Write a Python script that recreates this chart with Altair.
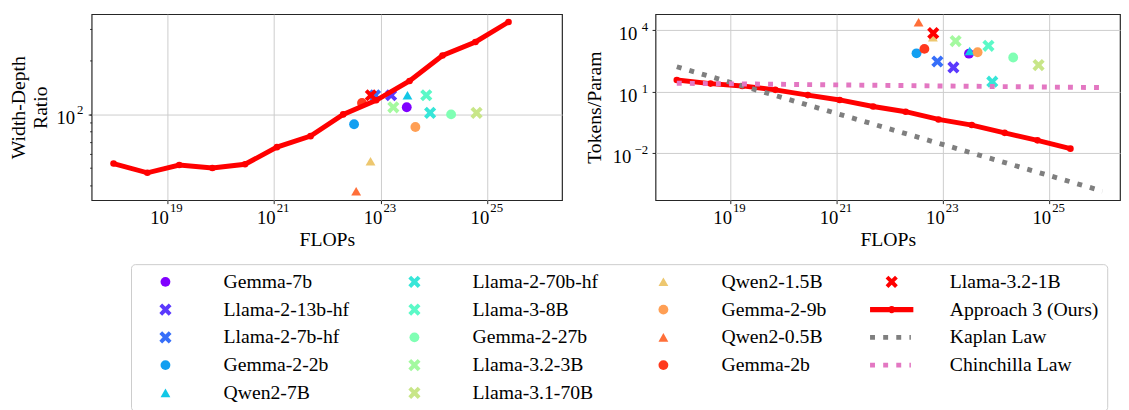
import math
import altair as alt
import pandas as pd

FONT = "Liberation Serif"

# ---------------- data ----------------
model_names = ["Gemma-7b", "Llama-2-13b-hf", "Llama-2-7b-hf", "Gemma-2-2b", "Qwen2-7B",
               "Llama-2-70b-hf", "Llama-3-8B", "Gemma-2-27b", "Llama-3.2-3B", "Llama-3.1-70B",
               "Qwen2-1.5B", "Gemma-2-9b", "Qwen2-0.5B", "Gemma-2b", "Llama-3.2-1B"]
model_markers = ["circle", "x", "x", "circle", "triangle",
                 "x", "x", "circle", "x", "x",
                 "triangle", "circle", "triangle", "circle", "x"]
model_colors = ["#8000ff", "#5b39fd", "#376ff9", "#129ff1", "#12c7e6",
                "#37e6d8", "#5bf9c7", "#80ffb4", "#a4f99f", "#c8e688",
                "#edc76f", "#ff9f54", "#ff6f39", "#ff391d", "#ff0000"]
model_flops = [3.1e23, 1.58e23, 7.9e22, 3.2e22, 3.2e23,
               8.5e23, 7.2e23, 2.1e24, 1.74e23, 6.3e24,
               6.5e22, 4.5e23, 3.5e22, 4.5e22, 6.6e22]
model_width_depth = [109.6, 128, 128, 88, 128,
                     102, 128, 100, 109.6, 102,
                     54.5, 85, 37, 116, 128]
model_tokens_param = [720, 154, 300, 750, 980,
                      31, 1740, 470, 2950, 200,
                      4600, 840, 24500, 1230, 7200]

approach_flops = [1.0e18, 4.3e18, 1.7e19, 7.1e19, 2.9e20, 1.15e21, 4.9e21,
                  2.0e22, 8.3e22, 3.5e23, 1.45e24, 6.0e24, 2.5e25]
approach_width_depth = [53, 47, 52, 50, 52.5, 65.5, 75.5, 100, 120, 154, 214, 255, 330]
approach_tokens_param = [37.4, 25.0, 19.3, 12.4, 6.9, 4.0, 1.92, 1.07, 0.45, 0.24, 0.10, 0.043, 0.017]

law_flops = [1e18, 1e26]
kaplan_tokens_param = [166, 1.45e-4]
chinchilla_tokens_param = [26, 16]

line_names = ["Approach 3 (Ours)", "Kaplan Law", "Chinchilla Law"]
line_colors = ["#ff0000", "#7f7f7f", "#e377c2"]

# tick labels: base "10" and the exponent
x_ticks = [1e19, 1e21, 1e23, 1e25]
x_tick_exponents = ["19", "21", "23", "25"]
left_y_ticks = [100]
left_y_tick_exponents = ["2"]
left_y_minor = [40, 50, 60, 70, 80, 90, 100, 200, 300]
right_y_ticks = [1e-2, 1e1, 1e4]
right_y_tick_exponents = ["\u22122", "1", "4"]

# ---------------- styles ----------------
X_PATH = ("M0.672,-1.237L1.237,-0.672L0.566,0L1.237,0.672L0.672,1.237L0,0.566"
          "L-0.672,1.237L-1.237,0.672L-0.566,0L-1.237,-0.672L-0.672,-1.237L0,-0.566Z")
APPROACH_PATH = ("M-4.4,-0.55H4.4V0.55H-4.4Z "
                 "M0.75,0A0.75,0.75,0,1,1,-0.75,0A0.75,0.75,0,1,1,0.75,0Z")
DOT_PATH = ("M-4.4,-0.5h1v1h-1Z M-1.73,-0.5h1v1h-1Z "
            "M0.93,-0.5h1v1h-1Z M3.6,-0.5h0.3v1h-0.3Z")
marker_shape = {"circle": "circle", "triangle": "triangle-up", "x": X_PATH}
line_shapes = [APPROACH_PATH, DOT_PATH, DOT_PATH]

# legend: matplotlib fills columns first; a horizontal Vega legend fills rows -> reorder
legend_columns = [model_names[0:5], model_names[5:10], model_names[10:14],
                  model_names[14:] + line_names]
legend_order = [col[r] for r in range(5) for col in legend_columns if r < len(col)]
color_of = dict(zip(model_names + line_names, model_colors + line_colors))
shape_of = dict(zip(model_names, [marker_shape[m] for m in model_markers]))
shape_of.update(dict(zip(line_names, line_shapes)))

color_scale = alt.Scale(domain=legend_order, range=[color_of[n] for n in legend_order])
shape_scale = alt.Scale(domain=legend_order, range=[shape_of[n] for n in legend_order])

legend = alt.Legend(title=None, orient="none", legendX=40, legendY=254, columns=4,
                    direction="horizontal",
                    symbolSize=100, symbolOffset=17, symbolStrokeWidth=0,
                    labelOffset=49, labelFont=FONT, labelFontSize=20, labelColor="black",
                    labelLimit=400, rowPadding=8.2, columnPadding=39, padding=8,
                    strokeColor="#cccccc", fillColor="white", cornerRadius=4)


def label_expr(ticks, labels):
    """exact match on the tick value (compared in log space to avoid float noise)"""
    expr = "''"
    for t, l in zip(reversed(ticks), reversed(labels)):
        e = math.log10(t)
        expr = f"abs(log(datum.value)/LN10 - ({e})) < 0.001 ? '{l}' : ({expr})"
    return expr


df_models = pd.DataFrame({"name": model_names, "flops": model_flops,
                          "wd": model_width_depth, "tpp": model_tokens_param})
df_app = pd.DataFrame({"flops": approach_flops, "wd": approach_width_depth,
                       "tpp": approach_tokens_param})
df_kap = pd.DataFrame({"flops": law_flops, "tpp": kaplan_tokens_param})
df_chi = pd.DataFrame({"flops": law_flops, "tpp": chinchilla_tokens_param})

BASE_FS, EXP_FS = 19, 13

# x axes: base "10" (with ticks, grid, title) and exponent
x_base = alt.Axis(values=x_ticks, labelExpr="'10'", title="FLOPs", grid=True, tickSize=3.5,
                  labelPadding=5.5, labelOffset=-8, labelFontSize=BASE_FS, titlePadding=2,
                  labelFlush=False, labelOverlap=False, orient="bottom")
x_exp = alt.Axis(values=x_ticks, labelExpr=label_expr(x_ticks, x_tick_exponents), title=None,
                 grid=False, ticks=False, tickSize=0, labelPadding=2, labelOffset=9,
                 labelFontSize=EXP_FS, labelFlush=False, labelOverlap=False, orient="bottom")

# left y axes
yl_base = alt.Axis(values=left_y_ticks, labelExpr="'10'", title=["Width-Depth", "Ratio"],
                   titleLineHeight=22, grid=True, tickSize=3.5, labelPadding=13.8,
                   labelOffset=3, labelFontSize=BASE_FS, titlePadding=6,
                   labelOverlap=False, orient="left")
yl_exp = alt.Axis(values=left_y_minor, labelExpr=label_expr(left_y_ticks, left_y_tick_exponents),
                  title=None, grid=False, tickSize=2, labelPadding=7, labelOffset=-4.5,
                  labelFontSize=EXP_FS, labelOverlap=False, orient="left")

# right y axes
yr_base = alt.Axis(values=right_y_ticks, labelExpr="'10'", title="Tokens/Param", grid=True,
                   tickSize=3.5,
                   labelPadding={"condition": {"test": "datum.value < 1", "value": 21.5},
                                 "value": 15.5},
                   labelOffset=3.5, labelFontSize=BASE_FS, titlePadding=8,
                   labelOverlap=False, orient="left")
yr_exp = alt.Axis(values=right_y_ticks, labelExpr=label_expr(right_y_ticks, right_y_tick_exponents),
                  title=None, grid=False, ticks=False, tickSize=0, labelPadding=8,
                  labelOffset=-3.5, labelFontSize=EXP_FS, labelOverlap=False, orient="left")

enc_color = alt.Color("name:N", scale=color_scale, legend=legend)
enc_shape = alt.Shape("name:N", scale=shape_scale, legend=legend)

xs_left = alt.Scale(type="log", domain=[10**17.59, 10**26.40], nice=False)
xs_right = alt.Scale(type="log", domain=[10**17.60, 10**26.33], nice=False)
ys_left = alt.Scale(type="log", domain=[33.0, 365.0], nice=False)
ys_right = alt.Scale(type="log", domain=[10**-4.28, 10**4.78], nice=False)

W_L, W_R, H = 478, 472, 189
RED_W, RED_PT = 5, 45

# ---------------- left panel ----------------
scatter_l = alt.Chart(df_models).mark_point(filled=True, size=100, opacity=1, strokeWidth=0).encode(
    x=alt.X("flops:Q", scale=xs_left, axis=x_base),
    y=alt.Y("wd:Q", scale=ys_left, axis=yl_base),
    color=enc_color, shape=enc_shape)
line_l = alt.Chart(df_app).mark_line(color="#ff0000", strokeWidth=RED_W).encode(
    x=alt.X("flops:Q", scale=xs_left, axis=x_exp),
    y=alt.Y("wd:Q", scale=ys_left, axis=yl_exp))
pts_l = alt.Chart(df_app).mark_circle(color="#ff0000", size=RED_PT, opacity=1).encode(
    x=alt.X("flops:Q", scale=xs_left, axis=None),
    y=alt.Y("wd:Q", scale=ys_left, axis=None))
left = alt.layer(scatter_l, line_l, pts_l).resolve_axis(
    x="independent", y="independent").properties(width=W_L, height=H)

# ---------------- right panel ----------------
scatter_r = alt.Chart(df_models).mark_point(filled=True, size=100, opacity=1, strokeWidth=0).encode(
    x=alt.X("flops:Q", scale=xs_right, axis=x_base),
    y=alt.Y("tpp:Q", scale=ys_right, axis=yr_base),
    color=enc_color, shape=enc_shape)
line_r = alt.Chart(df_app).mark_line(color="#ff0000", strokeWidth=RED_W).encode(
    x=alt.X("flops:Q", scale=xs_right, axis=x_exp),
    y=alt.Y("tpp:Q", scale=ys_right, axis=yr_exp))
pts_r = alt.Chart(df_app).mark_circle(color="#ff0000", size=RED_PT, opacity=1).encode(
    x=alt.X("flops:Q", scale=xs_right, axis=None),
    y=alt.Y("tpp:Q", scale=ys_right, axis=None))
kap_r = alt.Chart(df_kap).mark_line(color="#7f7f7f", strokeWidth=5, strokeDash=[5, 8.25],
                                    strokeCap="butt").encode(
    x=alt.X("flops:Q", scale=xs_right, axis=None),
    y=alt.Y("tpp:Q", scale=ys_right, axis=None))
chi_r = alt.Chart(df_chi).mark_line(color="#e377c2", strokeWidth=5, strokeDash=[5, 8.25],
                                    strokeCap="butt").encode(
    x=alt.X("flops:Q", scale=xs_right, axis=None),
    y=alt.Y("tpp:Q", scale=ys_right, axis=None))
right = alt.layer(scatter_r, line_r, pts_r, kap_r, chi_r).resolve_axis(
    x="independent", y="independent").properties(width=W_R, height=H)

chart = alt.hconcat(left, right, spacing=21).resolve_scale(
    color="shared", shape="shared").resolve_legend(color="shared", shape="shared").properties(
    padding={"left": 0, "top": 0, "right": 0, "bottom": 0}
).configure_view(stroke="#262626", strokeWidth=1.2).configure_axis(
    labelFont=FONT, titleFont=FONT, titleFontSize=20,
    titleFontWeight="normal", labelColor="black", titleColor="black",
    gridColor="#cccccc", gridWidth=1, tickColor="#262626", tickWidth=1, domain=False)

chart.save("out.html", embed_options={"renderer": "svg", "actions": False})
